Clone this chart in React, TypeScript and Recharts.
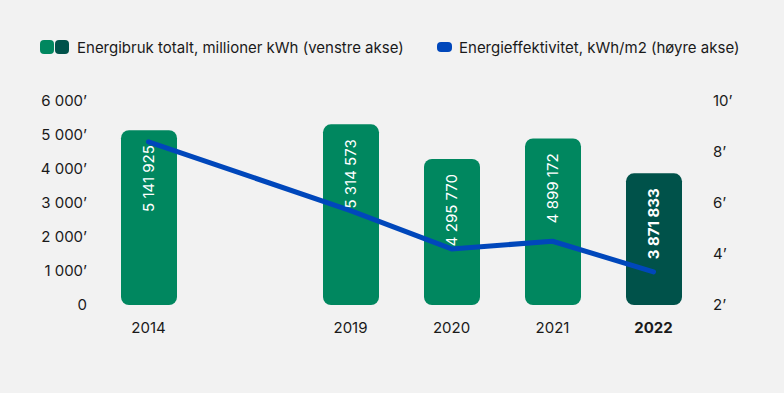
import { Bar, Cell, ComposedChart, LabelList, Line, XAxis, YAxis } from "recharts";

const years = ["2014", "", "2019", "2020", "2021", "2022"];
const energyKwh = [5141925, null, 5314573, 4295770, 4899172, 3871833];
const efficiency = [8.4, null, 5.7, 4.2, 4.5, 3.3];
const leftTicks = [0, 1000, 2000, 3000, 4000, 5000, 6000];
const rightTicks = [2, 4, 6, 8, 10];

const GREEN = "#00875f";
const DARK = "#00524a";
const BLUE = "#0047bb";
const FONT = "Inter, 'Noto Sans', sans-serif";

const data = years.map((y, i) => ({
  key: y || "gap",
  year: y,
  energy: energyKwh[i] == null ? null : (energyKwh[i] as number) / 1000,
  raw: energyKwh[i],
  eff: efficiency[i],
}));

const fmt = (n: number) => String(n).replace(/\B(?=(\d{3})+(?!\d))/g, " ");

function XTick(props: any) {
  const { x, y, payload } = props;
  const label = payload.value === "gap" ? "" : payload.value;
  return (
    <text
      x={x}
      y={y}
      dy="0.71em"
      textAnchor="middle"
      fill="#1a1a1a"
      fontSize={15}
      fontFamily={FONT}
      fontWeight={label === "2022" ? 700 : 400}
    >
      {label}
    </text>
  );
}

function BarLabel(props: any) {
  const { x, y, width, value } = props;
  if (value == null) return null;
  const cx = x + width / 2;
  const ty = y + 15;
  const last = value === energyKwh[energyKwh.length - 1];
  return (
    <text
      x={cx}
      y={ty}
      dy="0.36em"
      transform={`rotate(-90 ${cx} ${ty})`}
      textAnchor="end"
      fill="#ffffff"
      fontSize={15}
      fontFamily={FONT}
      fontWeight={last ? 700 : 400}
    >
      {fmt(value)}
    </text>
  );
}

export default function App() {
  return (
    <div
      style={{
        position: "absolute",
        left: 0,
        top: 0,
        width: 784,
        height: 393,
        background: "#f2f2f2",
        fontFamily: FONT,
      }}
    >
      <div
        style={{
          position: "absolute",
          top: 40,
          left: 40,
          display: "flex",
          alignItems: "center",
          fontSize: 15,
          color: "#1a1a1a",
          height: 14,
        }}
      >
        <span style={{ width: 14, height: 14, borderRadius: 4, background: GREEN }} />
        <span style={{ width: 14, height: 14, borderRadius: 4, background: DARK, marginLeft: 1 }} />
        <span style={{ marginLeft: 8 }}>Energibruk totalt, millioner kWh (venstre akse)</span>
      </div>
      <div
        style={{
          position: "absolute",
          top: 40,
          left: 437,
          display: "flex",
          alignItems: "center",
          fontSize: 15,
          color: "#1a1a1a",
          height: 14,
        }}
      >
        <span style={{ width: 15, height: 10, borderRadius: 4, background: BLUE }} />
        <span style={{ marginLeft: 7 }}>Energieffektivitet, kWh/m2 (høyre akse)</span>
      </div>
      <div style={{ position: "absolute", left: 0, top: 0 }}>
        <ComposedChart
          width={784}
          height={393}
          data={data}
          margin={{ top: 101, right: 0, bottom: 58, left: 0 }}
        >
          <XAxis
            dataKey="key"
            height={30}
            axisLine={false}
            tickLine={false}
            tickMargin={11}
            interval={0}
            tick={<XTick />}
          />
          <YAxis
            yAxisId="left"
            width={98}
            domain={[0, 6000]}
            ticks={leftTicks}
            axisLine={false}
            tickLine={false}
            tickMargin={5}
            tick={{ fill: "#1a1a1a", fontSize: 15, fontFamily: FONT }}
            tickFormatter={(v: number) => (v === 0 ? "0" : `${v / 1000} 000’`)}
          />
          <YAxis
            yAxisId="right"
            orientation="right"
            width={80}
            domain={[2, 10]}
            ticks={rightTicks}
            axisLine={false}
            tickLine={false}
            tickMargin={3}
            tick={{ fill: "#1a1a1a", fontSize: 15, fontFamily: FONT, textAnchor: "start" }}
            tickFormatter={(v: number) => `${v}’`}
          />
          <Bar
            yAxisId="left"
            dataKey="energy"
            barSize={56}
            radius={8}
            isAnimationActive={false}
          >
            {data.map((d, i) => (
              <Cell key={d.key} fill={i === data.length - 1 ? DARK : GREEN} />
            ))}
            <LabelList dataKey="raw" content={<BarLabel />} />
          </Bar>
          <Line
            yAxisId="right"
            dataKey="eff"
            stroke={BLUE}
            strokeWidth={5}
            strokeLinecap="round"
            strokeLinejoin="round"
            dot={false}
            activeDot={false}
            connectNulls
            type="linear"
            isAnimationActive={false}
          />
        </ComposedChart>
      </div>
    </div>
  );
}
